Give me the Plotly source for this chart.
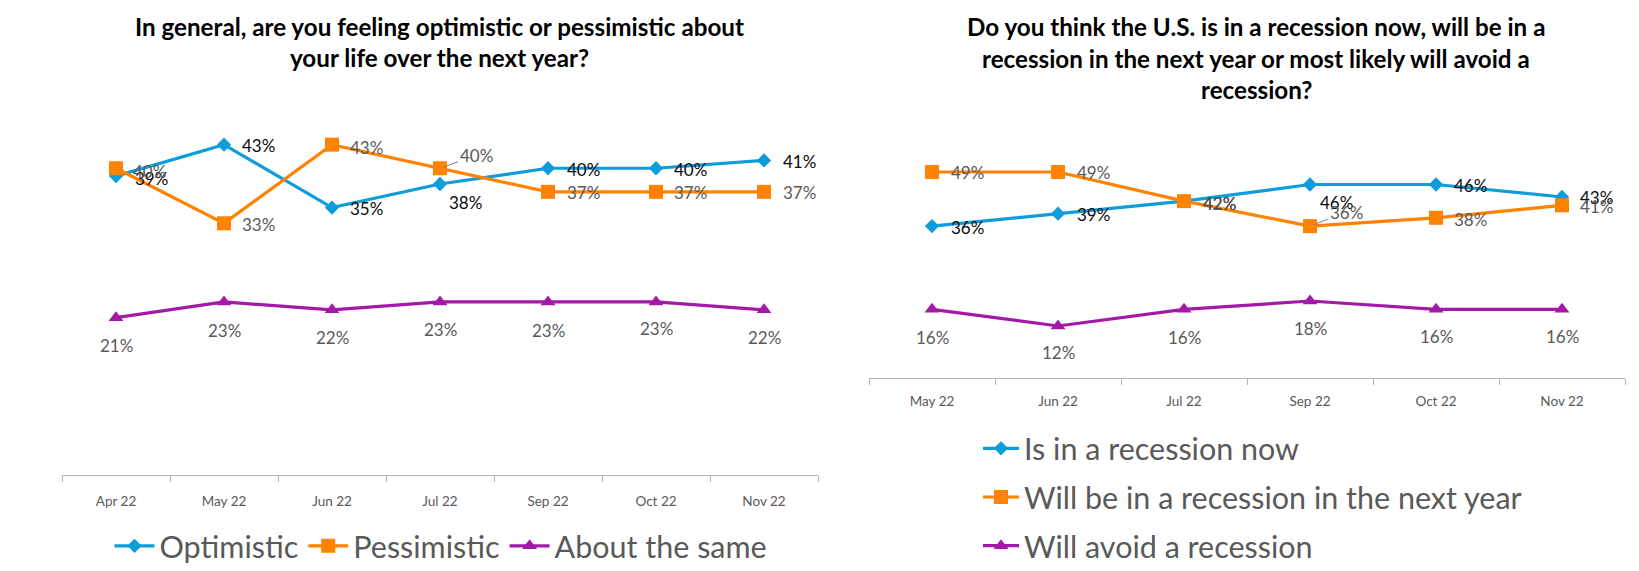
import plotly.graph_objects as go

# ---------------- data ----------------
left_categories = ["Apr 22", "May 22", "Jun 22", "Jul 22", "Sep 22", "Oct 22", "Nov 22"]
optimistic = [39, 43, 35, 38, 40, 40, 41]
pessimistic = [40, 33, 43, 40, 37, 37, 37]
about_same = [21, 23, 22, 23, 23, 23, 22]

right_categories = ["May 22", "Jun 22", "Jul 22", "Sep 22", "Oct 22", "Nov 22"]
in_recession_now = [36, 39, 42, 46, 46, 43]
recession_next_year = [49, 49, 42, 36, 38, 41]
avoid_recession = [16, 12, 16, 18, 16, 16]

left_title = ["In general, are you feeling optimistic or pessimistic about",
              "your life over the next year?"]
right_title = ["Do you think the U.S. is in a recession now, will be in a",
               "recession in the next year or most likely will avoid a",
               "recession?"]

# ---------------- styles ----------------
# the page body keeps an 8px default margin, so the figure is sized to fit the window
OFF = 8
W, H = 1639 - OFF, 571 - OFF
FONT = "Lato"
BLUE = "#0E9DD9"
ORANGE = "#FF8200"
PURPLE = "#A31AA8"
GRAY_TXT = "#595959"
BLACK_TXT = "#0a0a0a"
AXIS = "#B4B4B4"
LABEL_SIZE = 17
LEGEND_SIZE = 30.5
TITLE_SIZE = 24.2

# label offsets in pixels (dx right, dy down); 'L' marks a leader-line label
opt_off = [(35, 2), (34, 1), (34, 1), (25, 19), (35, 1), (34, 1), (35, 1)]
pes_off = [(33, 3), (34, 1), (34, 3), ("L", 36, -13), (35, 1), (34, 1), (35, 1)]
same_off = [(0, 28), (0, 29), (0, 28), (0, 28), (0, 29), (0, 27), (0, 28)]

now_off = [(35, 1), (35, 1), (35, 2), (26, 18), (34, 1), (34, 1)]
next_off = [(35, 0), (35, 0), (35, 2), ("L", 36, -14), (34, 2), (34, 1)]
avoid_off = [(0, 28), (0, 27), (0, 28), (0, 27), (0, 27), (0, 27)]


def px(x):
    """screen x (window pixels) -> paper fraction"""
    return (x - OFF) / W


def py(y):
    """screen y (window pixels) -> paper fraction"""
    return 1 - (y - OFF) / H


fig = go.Figure()


def add_line(cats, vals, name, color, symbol, size, xa, ya, legend, group):
    fig.add_trace(go.Scatter(
        x=cats, y=vals, name=name, mode="lines+markers",
        line=dict(color=color, width=3.2),
        marker=dict(symbol=symbol, size=size, color=color),
        xaxis=xa, yaxis=ya, legend=legend, legendgroup=group,
        hoverinfo="skip",
    ))


add_line(left_categories, optimistic, "Optimistic", BLUE, "diamond", 11, "x", "y", "legend", "a")
add_line(left_categories, pessimistic, "Pessimistic", ORANGE, "square", 14, "x", "y", "legend", "b")
add_line(left_categories, about_same, "About the same", PURPLE, "triangle-up", 13, "x", "y", "legend", "c")

add_line(right_categories, in_recession_now, "Is in a recession now", BLUE, "diamond", 11, "x2", "y2", "legend2", "d")
add_line(right_categories, recession_next_year, "Will be in a recession in the next year", ORANGE, "square", 14, "x2", "y2", "legend2", "e")
add_line(right_categories, avoid_recession, "Will avoid a recession", PURPLE, "triangle-up", 13, "x2", "y2", "legend2", "f")

annotations = []


def add_labels(cats, vals, offs, color, xref, yref):
    for c, v, o in zip(cats, vals, offs):
        font = dict(family=FONT, size=LABEL_SIZE, color=color)
        if o[0] == "L":
            annotations.append(dict(
                x=c, y=v, xref=xref, yref=yref, text=f"{v}%", font=font,
                showarrow=True, arrowhead=0, arrowwidth=1, arrowcolor="#808080",
                ax=o[1], ay=o[2], standoff=4))
        else:
            annotations.append(dict(
                x=c, y=v, xref=xref, yref=yref, text=f"{v}%", font=font,
                showarrow=False, xshift=o[0], yshift=-o[1]))


add_labels(left_categories, optimistic, opt_off, BLACK_TXT, "x", "y")
add_labels(left_categories, pessimistic, pes_off, GRAY_TXT, "x", "y")
add_labels(left_categories, about_same, same_off, GRAY_TXT, "x", "y")
add_labels(right_categories, in_recession_now, now_off, BLACK_TXT, "x2", "y2")
add_labels(right_categories, recession_next_year, next_off, GRAY_TXT, "x2", "y2")
add_labels(right_categories, avoid_recession, avoid_off, GRAY_TXT, "x2", "y2")

# titles
for i, line in enumerate(left_title):
    annotations.append(dict(
        x=px(440), y=py(27 + 30.5 * i), xref="paper", yref="paper", text=f"<b>{line}</b>",
        showarrow=False, xanchor="center", yanchor="middle",
        font=dict(family=FONT, size=TITLE_SIZE, color="#000000")))
for i, line in enumerate(right_title):
    annotations.append(dict(
        x=px(1256), y=py(27 + 31 * i), xref="paper", yref="paper", text=f"<b>{line}</b>",
        showarrow=False, xanchor="center", yanchor="middle",
        font=dict(family=FONT, size=TITLE_SIZE, color="#000000")))

xaxis_common = dict(
    type="category", showline=True, linecolor=AXIS, linewidth=1.3,
    ticks="outside", tickson="boundaries", ticklen=6, tickcolor=AXIS, tickwidth=1.3,
    showgrid=False, zeroline=False, automargin=False,
    tickfont=dict(family=FONT, size=13.5, color=GRAY_TXT),
)

fig.update_layout(
    width=W, height=H,
    margin=dict(l=0, r=0, t=0, b=0, pad=0, autoexpand=False),
    paper_bgcolor="white", plot_bgcolor="white",
    showlegend=True,
    xaxis=dict(domain=[px(62), px(818)], range=[-0.5, 6.5], anchor="y",
               ticklabelstandoff=14, **xaxis_common),
    yaxis=dict(domain=[py(475), py(125)], range=[1.0, 45.5], visible=False),
    xaxis2=dict(domain=[px(869), px(1625)], range=[-0.5, 5.5], anchor="y2",
                ticklabelstandoff=11, **xaxis_common),
    yaxis2=dict(domain=[py(378), py(125)], range=[-0.5, 60.3], visible=False),
    legend=dict(orientation="h", x=px(441), xanchor="center", y=py(546), yanchor="middle",
                itemwidth=40,
                font=dict(family=FONT, size=LEGEND_SIZE, color=GRAY_TXT), bgcolor="rgba(0,0,0,0)"),
    legend2=dict(orientation="v", x=px(978), xanchor="left", y=py(422), yanchor="top",
                 tracegroupgap=6, itemwidth=36,
                 font=dict(family=FONT, size=LEGEND_SIZE, color=GRAY_TXT), bgcolor="rgba(0,0,0,0)"),
    annotations=annotations,
)

fig.write_html("out.html")
